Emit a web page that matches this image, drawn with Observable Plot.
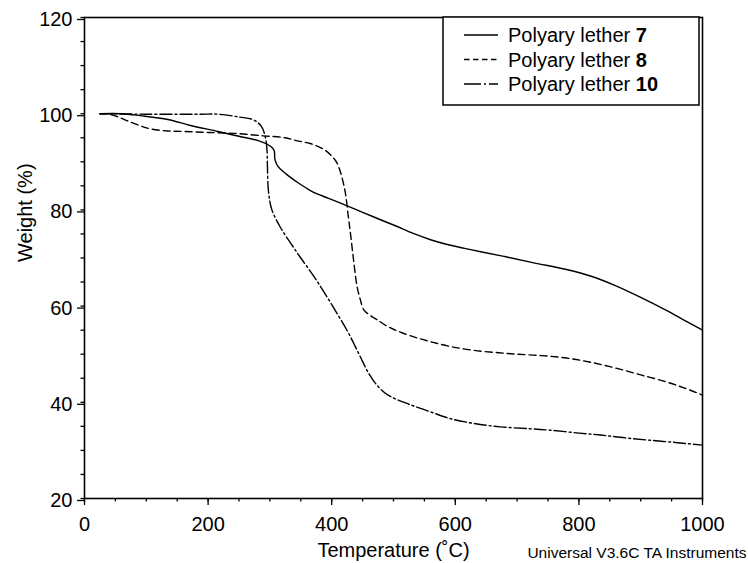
<!DOCTYPE html>
<html>
<head>
<meta charset="utf-8">
<script src="https://cdn.jsdelivr.net/npm/d3@7"></script>
<script src="https://cdn.jsdelivr.net/npm/@observablehq/plot@0.6"></script>
<style>
  html, body { margin: 0; padding: 0; background: #fff; }
  #chart { position: relative; width: 748px; height: 563px; }
</style>
</head>
<body>
<div id="chart"></div>
<script>
// Series: temperature (°C) and weight (%)
const temps7   = [25, 60, 90, 135, 170, 216, 250, 281, 295, 303, 307, 308, 311, 316, 325, 335, 345, 358, 370, 395, 424, 450, 478, 505, 532, 560, 587, 615, 641, 680, 727, 780, 820, 860, 900, 940, 970, 1000];
const weights7 = [100, 100, 99.6, 98.8, 97.6, 96.3, 95.3, 94.4, 93.7, 93.0, 92.3, 90.6, 89.5, 88.6, 87.6, 86.6, 85.7, 84.6, 83.7, 82.4, 80.9, 79.5, 78.0, 76.6, 75.1, 73.8, 72.8, 72.0, 71.3, 70.3, 69.0, 67.6, 66.2, 64.2, 61.8, 59.2, 57.1, 55.0];

const temps8   = [25, 40, 55, 70, 90, 108, 135, 162, 200, 243, 289, 324, 343, 365, 387, 400, 408, 415, 422, 427, 430, 435, 441, 446, 452, 463, 473, 490, 511, 535, 560, 592, 630, 670, 700, 740, 780, 820, 860, 900, 940, 970, 1000];
const weights8 = [100, 99.9, 99.3, 98.5, 97.5, 96.8, 96.4, 96.3, 96.1, 95.9, 95.4, 95.0, 94.4, 93.8, 92.6, 91.2, 89.9, 87.5, 83.6, 78.5, 75.5, 70.0, 64.1, 61.5, 59.2, 58.0, 57.2, 55.8, 54.6, 53.5, 52.6, 51.6, 50.8, 50.3, 50.0, 49.7, 49.2, 48.3, 47.1, 45.7, 44.3, 43.0, 41.5];

const temps10   = [25, 100, 187, 216, 251, 270, 280, 287, 292, 295, 296, 297, 299, 303, 316, 333, 350, 370, 390, 410, 428, 445, 460, 475, 490, 505, 525, 560, 592, 630, 673, 720, 754, 800, 835, 875, 916, 960, 1000];
const weights10 = [100, 99.9, 99.9, 99.9, 99.3, 98.9, 98.2, 97.2, 95.5, 93.0, 89.0, 85.0, 82.5, 80.1, 76.6, 73.2, 70.0, 66.4, 62.4, 58.2, 54.2, 49.8, 46.0, 43.3, 41.6, 40.6, 39.6, 38.0, 36.6, 35.6, 34.9, 34.5, 34.2, 33.6, 33.2, 32.6, 32.1, 31.6, 31.1];

const seriesNames = ["7", "8", "10"];
const seriesDash  = [null, "7,4", "12,3,2,3"];

const xMajorTicks = [0, 200, 400, 600, 800, 1000];
const yMajorTicks = [20, 40, 60, 80, 100, 120];
const xLabel = "Temperature (˚C)";
const yLabel = "Weight (%)";
const caption = "Universal V3.6C TA Instruments";
const legendPrefix = "Polyary lether ";

const toRows = (ts, ws) => ts.map((t, i) => ({t, w: ws[i]}));
const data7 = toRows(temps7, weights7);
const data8 = toRows(temps8, weights8);
const data10 = toRows(temps10, weights10);
const allData = [data7, data8, data10];

const font = "'Liberation Sans', Arial, Helvetica, sans-serif";

const plot = Plot.plot({
  width: 748,
  height: 563,
  marginLeft: 84,
  marginRight: 46,
  marginTop: 17,
  marginBottom: 65,
  style: {fontFamily: font, fontSize: "20px", color: "#000", background: "#fff"},
  x: {domain: [0, 1000]},
  y: {domain: [20, 120]},
  marks: [
    Plot.axisX({ticks: d3.range(0, 1001, 50), tickSize: 3.5, text: null, label: null, strokeWidth: 1.3}),
    Plot.axisX({ticks: xMajorTicks, tickSize: 7, tickPadding: 11, tickFormat: d => String(d), label: null, fontSize: 20, strokeWidth: 1.3}),
    Plot.axisY({ticks: d3.range(20, 121, 5), tickSize: 3.5, text: null, label: null, strokeWidth: 1.3}),
    Plot.axisY({ticks: yMajorTicks, tickSize: 7, tickPadding: 5, tickFormat: d => String(d), label: null, fontSize: 20, strokeWidth: 1.3, dy: 2}),
    ...allData.map((d, i) => Plot.line(d, {
      x: "t", y: "w", curve: "catmull-rom",
      stroke: "#000", strokeWidth: 1.4,
      strokeDasharray: seriesDash[i] || undefined
    })),
    Plot.frame({stroke: "#000", strokeWidth: 1.6}),
    Plot.text([yLabel], {text: d => d, frameAnchor: "left", lineAnchor: "middle", rotate: -90, dx: -59, dy: 4, fontSize: 20, fill: "#000"}),
    Plot.text([xLabel], {text: d => d, frameAnchor: "bottom", lineAnchor: "middle", dy: 52.5, fontSize: 20, fill: "#000"}),
    Plot.text([caption], {text: d => d, frameAnchor: "bottom-right", lineAnchor: "middle", textAnchor: "end", dx: 44, dy: 55, fontSize: 15.5, fill: "#000"})
  ]
});

document.getElementById("chart").appendChild(plot);

// Legend box (top-right, inside frame)
const svg = d3.select(plot);
const lg = svg.append("g").attr("font-family", font).attr("font-size", 20).attr("text-anchor", "start");
lg.append("rect")
  .attr("x", 443).attr("y", 17).attr("width", 256).attr("height", 88)
  .attr("fill", "#fff").attr("stroke", "#000").attr("stroke-width", 1.5);
seriesNames.forEach((name, i) => {
  const cy = 35 + i * 24.5;
  const ln = lg.append("line")
    .attr("x1", 464).attr("x2", 498).attr("y1", cy).attr("y2", cy)
    .attr("stroke", "#000").attr("stroke-width", 1.4);
  if (seriesDash[i]) ln.attr("stroke-dasharray", i === 1 ? "5.5,3.5" : "17,3,2,3");
  const tx = lg.append("text").attr("x", 508).attr("y", cy + 7.3).attr("fill", "#000").attr("text-anchor", "start");
  tx.append("tspan").text(legendPrefix);
  tx.append("tspan").attr("font-weight", "bold").text(name);
});
</script>
</body>
</html>
